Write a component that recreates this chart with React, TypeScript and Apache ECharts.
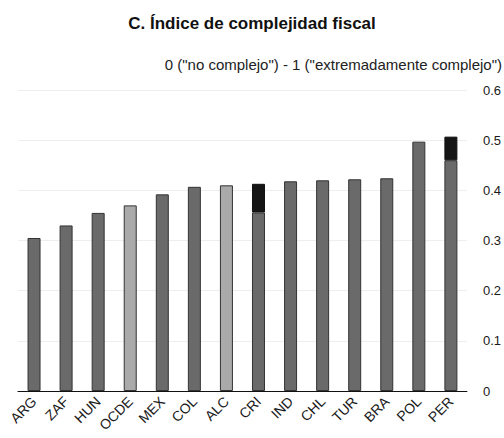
import React, { useEffect, useRef } from "react";
import * as echarts from "echarts";

const categories = ["ARG", "ZAF", "HUN", "OCDE", "MEX", "COL", "ALC", "CRI", "IND", "CHL", "TUR", "BRA", "POL", "PER"];
const baseValues = [0.305, 0.33, 0.355, 0.37, 0.392, 0.407, 0.41, 0.356, 0.418, 0.42, 0.422, 0.424, 0.497, 0.46];
const topValues: (number | null)[] = [null, null, null, null, null, null, null, 0.057, null, null, null, null, null, 0.047];
const highlighted = ["OCDE", "ALC"];
const titleText = "C. Índice de complejidad fiscal";
const subtitleText = "0 (\"no complejo\") - 1 (\"extremadamente complejo\")";

const FONT = "'Liberation Sans', Arial, sans-serif";

export default function App() {
  const ref = useRef<HTMLDivElement>(null);
  useEffect(() => {
    if (!ref.current) return;
    const chart = echarts.init(ref.current, undefined, { renderer: "svg" });
    chart.setOption({
      animation: false,
      backgroundColor: "#ffffff",
      textStyle: { fontFamily: FONT },
      title: {
        text: titleText,
        left: 247,
        textAlign: "center",
        top: 10,
        textStyle: { fontFamily: FONT, fontSize: 17, fontWeight: "bold", color: "#111" },
      },
      graphic: [
        {
          type: "text",
          right: 2,
          top: 57,
          style: { text: subtitleText, font: `15px ${FONT}`, fill: "#222" },
        },
      ],
      grid: { left: 18, right: 37, top: 90, bottom: 47 },
      xAxis: {
        type: "category",
        data: categories,
        axisLine: { lineStyle: { color: "#111", width: 1 } },
        axisTick: { inside: true, length: 4, lineStyle: { color: "#111" } },
        axisLabel: { rotate: 45, fontSize: 14, color: "#1a1a1a", margin: 8, fontFamily: FONT, interval: 0 },
      },
      yAxis: {
        type: "value",
        position: "right",
        min: 0,
        max: 0.6,
        interval: 0.1,
        axisLine: { show: false },
        axisTick: { show: false },
        axisLabel: { fontSize: 13, color: "#1a1a1a", margin: 16, fontFamily: FONT },
        splitLine: { lineStyle: { color: "#eeeeee", width: 1 } },
      },
      series: [
        {
          type: "bar",
          stack: "s",
          barWidth: 13,
          data: baseValues.map((v, i) => ({
            value: v,
            itemStyle: {
              color: highlighted.includes(categories[i]) ? "#aaaaaa" : "#6a6a6a",
              borderColor: "#333333",
              borderWidth: 1,
            },
          })),
        },
        {
          type: "bar",
          stack: "s",
          barWidth: 13,
          data: topValues,
          itemStyle: { color: "#151515", borderColor: "#111", borderWidth: 1 },
        },
      ],
    });
    return () => chart.dispose();
  }, []);
  return <div ref={ref} style={{ position: "fixed", left: 0, top: 0, width: 504, height: 438 }} />;
}
